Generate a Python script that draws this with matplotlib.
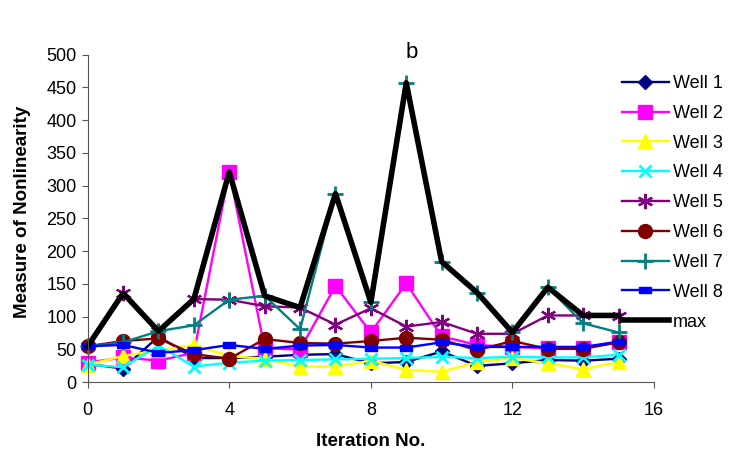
import matplotlib
matplotlib.use("Agg")
import matplotlib.pyplot as plt

plt.rcParams['font.family'] = ['Liberation Sans', 'DejaVu Sans']

iterations = list(range(16))
well1 = [28, 21, 70, 37, 37, 39, 42, 43, 29, 31, 47, 25, 29, 34, 33, 36]
well2 = [30, 38, 33, 45, 321, 52, 50, 147, 76, 151, 70, 57, 54, 52, 52, 62]
well3 = [27, 40, 49, 57, 40, 36, 24, 24, 33, 19, 16, 31, 37, 29, 20, 31]
well4 = [27, 23, 56, 24, 30, 33, 34, 35, 36, 37, 39, 37, 39, 38, 38, 42]
well5 = [55, 136, 78, 127, 126, 116, 114, 88, 113, 85, 92, 74, 74, 102, 102, 101]
well6 = [55, 63, 67, 43, 36, 66, 60, 59, 63, 68, 65, 49, 63, 51, 51, 61]
well7 = [55, 61, 78, 87, 126, 132, 81, 288, 122, 457, 184, 137, 76, 145, 90, 76]
well8 = [55, 57, 45, 49, 57, 51, 56, 57, 53, 53, 61, 54, 54, 54, 54, 62]
max_vals = [55, 136, 78, 127, 321, 132, 114, 288, 122, 457, 184, 137, 76, 145, 102, 102]

labels = ["Well 1", "Well 2", "Well 3", "Well 4", "Well 5", "Well 6", "Well 7", "Well 8", "max"]
xticks = [0, 4, 8, 12, 16]
yticks = list(range(0, 501, 50))

rect_marker = [(-1, -0.5), (1, -0.5), (1, 0.5), (-1, 0.5), (-1, -0.5)]

styles = [
    dict(color='#000080', marker='D', ms=7, mew=1),
    dict(color='#FF00FF', marker='s', ms=9.5, mew=1),
    dict(color='#FFFF00', marker='^', ms=9.5, mew=1),
    dict(color='#00FFFF', marker='x', ms=9, mew=2),
    dict(color='#800080', marker=(6, 2, 0), ms=11, mew=1.6),
    dict(color='#800000', marker='o', ms=10, mew=1),
    dict(color='#008080', marker='+', ms=11, mew=2),
    dict(color='#0000FF', marker=rect_marker, ms=9, mew=1),
]

fig = plt.figure(figsize=(7.31, 4.55), dpi=100)
ax = fig.add_axes([87.7/731, 1-382.3/455, (654-87.7)/731, (382.3-54.6)/455])

series = [well1, well2, well3, well4, well5, well6, well7, well8]
for vals, lab, st in zip(series, labels[:8], styles):
    ax.plot(iterations, vals, label=lab, lw=1.7, clip_on=False, **st)
ax.plot(iterations, max_vals, color='black', lw=4, label=labels[8], clip_on=False)

ax.set_xlim(0, 16)
ax.set_ylim(0, 500)
ax.set_xticks(xticks)
ax.set_yticks(yticks)
for s in ['top', 'right']:
    ax.spines[s].set_visible(False)
for s in ['left', 'bottom']:
    ax.spines[s].set_color('#555555')
ax.tick_params(axis='both', direction='out', length=4, color='#555555', labelsize=13)
ax.tick_params(axis='x', pad=10)
ax.tick_params(axis='y', pad=4)
ax.set_xlabel("Iteration No.", fontsize=13.5, fontweight='bold', labelpad=10)
ax.set_ylabel("Measure of Nonlinearity", fontsize=13.5, fontweight='bold')
ax.yaxis.set_label_coords(-57/566, 0.52)

fig.text(412/731, 1-52/455, "b", fontsize=16, ha='center', va='center')

handles, labs = ax.get_legend_handles_labels()
fig.legend(handles, labs, loc='upper left', bbox_to_anchor=(622/731, 1-75/455),
           frameon=False, fontsize=13, handlelength=2.6, handletextpad=0.2,
           labelspacing=0.71, borderpad=0, borderaxespad=0, numpoints=1)

fig.savefig("out.png", dpi=100)
